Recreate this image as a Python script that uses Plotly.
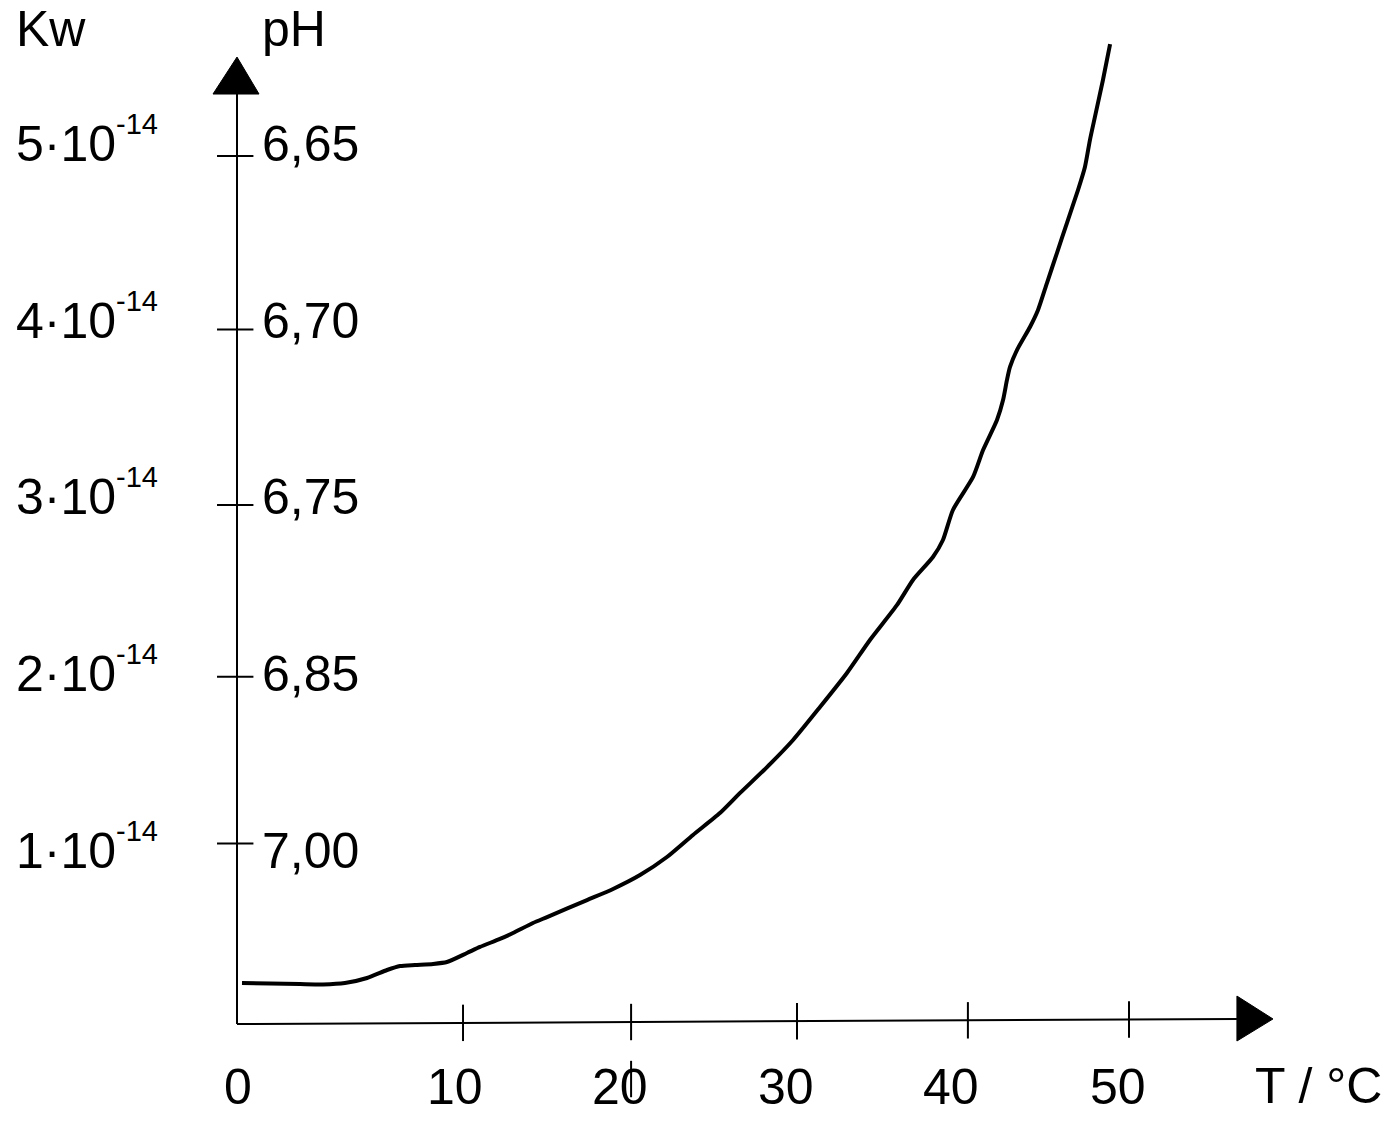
import plotly.graph_objects as go

# ---- data ----
# curve: temperature axis position vs Kw (in units of 1e-14)
T = [0.28, 1.85, 3.53, 4.82, 6.05, 7.29, 8.41, 9.14, 9.98, 10.99, 11.77, 12.89, 13.62,
     14.74, 15.47, 16.59, 17.38, 19.62, 21.08, 22.59, 24.10, 25.56, 27.07, 28.20, 29.71,
     31.17, 32.68, 34.19, 35.48, 37.00, 37.89, 39.01, 39.57, 40.13, 41.26, 41.82, 42.60,
     42.94, 43.16, 43.33, 43.72, 44.45, 44.90, 45.40, 45.96, 46.52, 47.14, 47.53, 47.81,
     48.09, 48.54, 48.94]
KW = [0.236, 0.233, 0.230, 0.228, 0.236, 0.265, 0.311, 0.334, 0.340, 0.346, 0.357, 0.409,
      0.444, 0.490, 0.524, 0.582, 0.616, 0.714, 0.778, 0.858, 0.962, 1.089, 1.215, 1.331,
      1.480, 1.636, 1.826, 2.022, 2.212, 2.414, 2.558, 2.690, 2.788, 2.961, 3.151, 3.306,
      3.479, 3.594, 3.710, 3.785, 3.882, 4.015, 4.113, 4.268, 4.441, 4.614, 4.804, 4.937,
      5.092, 5.225, 5.438, 5.645]

x_tick_pos = [12.67, 22.09, 31.39, 40.97, 50.0]
x_label_pos = [0.06, 12.22, 21.47, 30.77, 40.02, 49.38]
x_tick_labels = ["0", "10", "20", "30", "40", "50"]

kw_tick_pos = [1.04, 2.0, 2.99, 4.0, 5.0]
kw_label_pos = [0.997, 2.016, 3.036, 4.05, 5.069]
kw_mantissa = ["1", "2", "3", "4", "5"]
kw_exponent = "-14"
ph_tick_labels = ["7,00", "6,85", "6,75", "6,70", "6,65"]

x_title = "T / °C"
y_title_left = "Kw"
y_title_right = "pH"

# ---- geometry / style ----
PX_X = 17.84   # pixels per x unit
PX_Y = 173.6   # pixels per y unit
W, H = 1395, 1126
X0_PX, Y0_PX = 237, 1024
FONT = dict(family="Liberation Sans, Arial, sans-serif", size=50, color="black")
Y_TOP = Y0_PX / PX_Y

x_axis_end = 56.05
x_axis_tilt = 0.029


def axis_y(x):
    return x_axis_tilt * x / x_axis_end


fig = go.Figure()

# y axis line
fig.add_trace(go.Scatter(x=[0, 0], y=[0, 5.36], mode="lines",
                         line=dict(color="black", width=2), hoverinfo="skip"))
# x axis line
fig.add_trace(go.Scatter(x=[0, x_axis_end], y=[0, axis_y(x_axis_end)], mode="lines",
                         line=dict(color="black", width=2), hoverinfo="skip"))
# arrow heads
fig.add_trace(go.Scatter(x=[-1.345, 0, 1.233, -1.345], y=[5.357, 5.57, 5.357, 5.357],
                         mode="lines", fill="toself", fillcolor="black",
                         line=dict(color="black", width=1), hoverinfo="skip"))
fig.add_trace(go.Scatter(x=[x_axis_end, 58.07, x_axis_end, x_axis_end],
                         y=[0.161, 0.029, -0.098, 0.161],
                         mode="lines", fill="toself", fillcolor="black",
                         line=dict(color="black", width=1), hoverinfo="skip"))
# tick marks
fig.add_trace(go.Scatter(x=x_tick_pos, y=[axis_y(v) for v in x_tick_pos], mode="markers",
                         marker=dict(symbol="line-ns", size=26,
                                     line=dict(color="black", width=2)),
                         hoverinfo="skip"))
# stray stroke of the 20-tick that runs through the "20" label in the original drawing
fig.add_trace(go.Scatter(x=[x_tick_pos[1]], y=[-0.317], mode="markers",
                         marker=dict(symbol="line-ns", size=26,
                                     line=dict(color="black", width=2)),
                         hoverinfo="skip"))
fig.add_trace(go.Scatter(x=[-0.1] * len(kw_tick_pos), y=kw_tick_pos, mode="markers",
                         marker=dict(symbol="line-ew", size=26,
                                     line=dict(color="black", width=2)),
                         hoverinfo="skip"))
# the curve
fig.add_trace(go.Scatter(x=T, y=KW, mode="lines",
                         line=dict(color="black", width=4, shape="spline", smoothing=0.6),
                         hoverinfo="skip"))

ann = []
for xp, lab in zip(x_label_pos, x_tick_labels):
    ann.append(dict(x=xp, y=-0.36, text=lab, xanchor="center", yanchor="middle"))
for yp, m, pl in zip(kw_label_pos, kw_mantissa, ph_tick_labels):
    ann.append(dict(x=-12.44, y=yp, text=f"{m}·10", xanchor="left", yanchor="middle"))
    ann.append(dict(x=-12.44, y=yp, text=kw_exponent, xanchor="left", yanchor="middle",
                    xshift=100, yshift=20, font=dict(FONT, size=29)))
    ann.append(dict(x=1.35, y=yp, text=pl, xanchor="left", yanchor="middle"))
ann.append(dict(x=-12.44, y=Y_TOP, text=y_title_left, xanchor="left", yanchor="top"))
ann.append(dict(x=1.35, y=Y_TOP, text=y_title_right, xanchor="left", yanchor="top"))
ann.append(dict(x=60.62, y=-0.357, text=x_title, xanchor="center", yanchor="middle"))
for a in ann:
    a.setdefault("font", FONT)
    a.update(xref="x", yref="y", showarrow=False, borderpad=0)

fig.update_layout(
    width=W, height=H,
    margin=dict(l=0, r=0, t=0, b=0),
    paper_bgcolor="white", plot_bgcolor="white",
    showlegend=False,
    annotations=ann,
    xaxis=dict(visible=False, range=[-X0_PX / PX_X, (W - X0_PX) / PX_X]),
    yaxis=dict(visible=False, range=[(Y0_PX - H) / PX_Y, Y_TOP]),
    hovermode=False,
)

fig.write_html("out.html")
